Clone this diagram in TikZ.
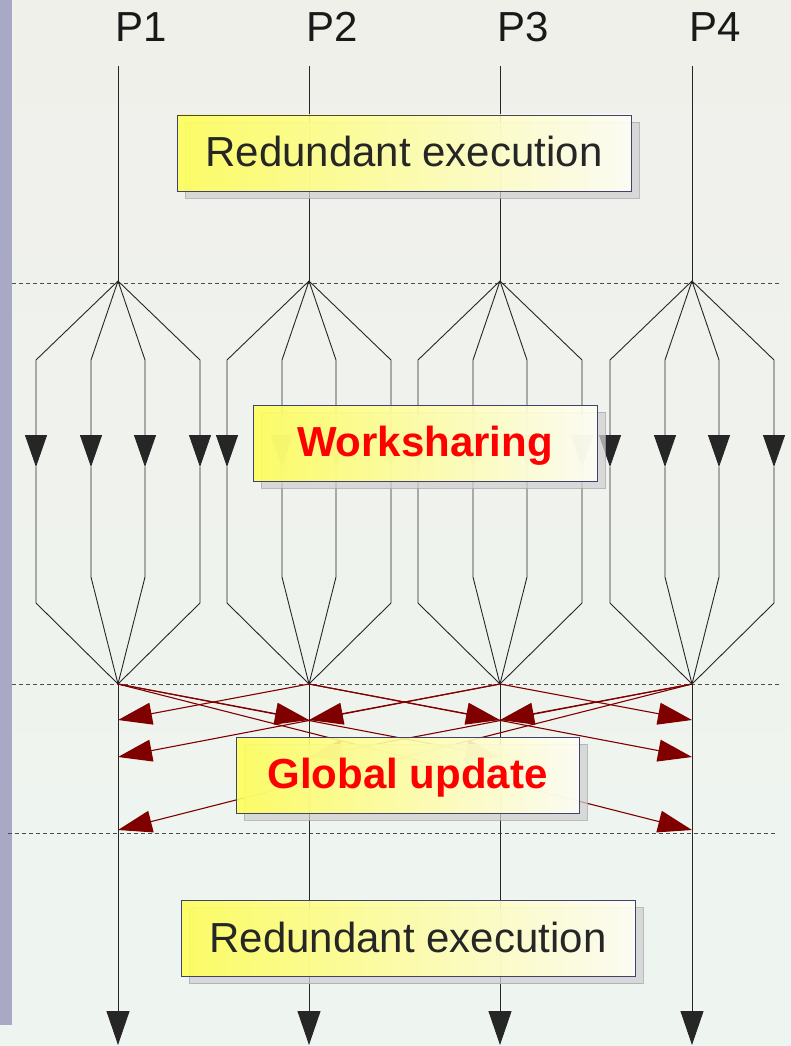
\documentclass[tikz,border=0pt]{standalone}
\usepackage{fontspec}
\setmainfont{Liberation Sans}
\usetikzlibrary{arrows.meta,shadows}
\definecolor{bgtop}{RGB}{240,240,235}
\definecolor{bgbottom}{RGB}{238,245,240}
\definecolor{strip}{RGB}{169,169,198}
\definecolor{noteleft}{RGB}{255,255,90}
\definecolor{noteright}{RGB}{255,255,246}
\definecolor{noteedge}{RGB}{66,66,112}
\definecolor{shadowgrey}{RGB}{208,208,208}
\definecolor{shadowedge}{RGB}{168,168,176}
\definecolor{updred}{RGB}{128,0,0}

\begin{document}
\begin{tikzpicture}[x=1pt, y=-1pt,
    note/.style={draw=noteedge, line width=0.8pt, left color=noteleft,
      right color=noteright, fill opacity=0.9, text opacity=1,
      minimum height=76pt, inner sep=0pt, text height=31pt, text depth=4pt,
      text=black!85, font=\fontsize{42}{48}\selectfont,
      drop shadow={shadow xshift=8pt, shadow yshift=-7pt, fill=shadowgrey,
        draw=shadowedge, opacity=0.75}},
    hot/.style={text=red, font=\fontsize{42}{48}\selectfont\bfseries},
    proc/.style={draw=black!85, line width=0.9pt},
    flow/.style={proc, -{Triangle[length=32pt,width=22pt]}},
    update/.style={draw=updred, line width=1.1pt,
      -{Triangle[length=34pt,width=22pt]}},
    sep/.style={draw=black!70, line width=0.9pt, dash pattern=on 4pt off 3pt}
  ]
  % background and side strip
  \useasboundingbox (0,0) rectangle (791,1046);
  \fill[top color=bgtop, bottom color=bgbottom] (0,0) rectangle (791,1046);
  \fill[strip] (0,0) rectangle (12,1025);

  % phase separators
  \draw[sep] (12,283) -- (780,283);
  \draw[sep] (12,684) -- (780,684);
  \draw[sep] (8,833) -- (777,833);

  % processes, fork and join
  \foreach \i/\x in {1/118,2/309,3/500,4/692} {
    \node[anchor=west, inner sep=0pt, font=\fontsize{42}{48}\selectfont,
      text=black!90] (p\i) at (\x-3,27) {P\i};
    \coordinate (top\i) at (\x,66);
    \coordinate (fork\i) at (\x,281);
    \coordinate (join\i) at (\x,684);
    \coordinate (end\i) at (\x,1045);
    \coordinate (lvl\i-1) at (\x,720);
    \coordinate (lvl\i-2) at (\x,757);
    \coordinate (lvl\i-3) at (\x,830);
    \draw[proc] (top\i) -- (fork\i);
    \draw[proc, -{Triangle[length=34pt,width=23pt]}] (join\i) -- (end\i);
    \foreach \o/\h in {-82/136,-27/110,27/110,82/136} {
      \draw[flow] (fork\i) -- ++(\o,79) -- ++(0,107);
      \draw[proc] (fork\i) ++(\o,186) -- ++(0,\h) -- (join\i);
    }
  }

  % global update messages
  \foreach \s/\t/\d in {1/2/1,2/1/1,2/3/1,3/2/1,3/4/1,4/3/1,
                        1/3/2,3/1/2,2/4/2,4/2/2,1/4/3,4/1/3}
    \draw[update] (join\s) -- (lvl\t-\d);

  % phase labels
  \node[note, minimum width=454pt] (redtop) at (404,153) {Redundant execution};
  \node[note, hot, minimum width=344pt] (share) at (425,443) {Worksharing};
  \node[note, hot, minimum width=343pt] (global) at (407.5,775) {Global update};
  \node[note, minimum width=454pt] (redbot) at (408,938.5) {Redundant execution};
\end{tikzpicture}
\end{document}
